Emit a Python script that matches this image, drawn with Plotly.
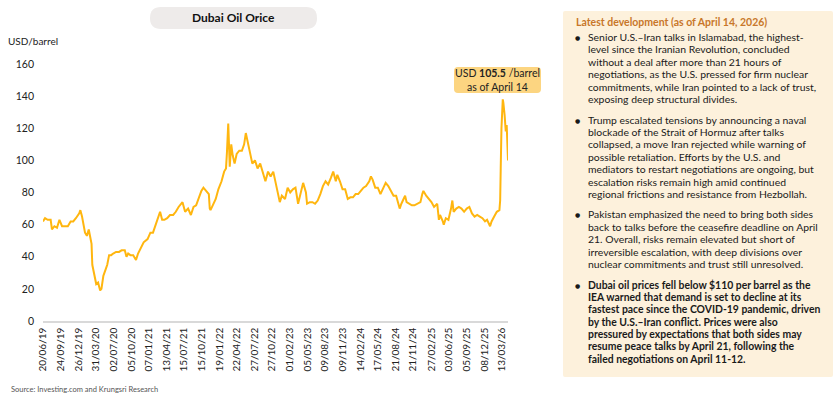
import plotly.graph_objects as go

# ---------------- DATA ----------------
dates = [
    "2019-06-20", "2019-07-01", "2019-07-15", "2019-07-31", "2019-08-07", "2019-08-20",
    "2019-09-03", "2019-09-16", "2019-09-30", "2019-10-15", "2019-10-31", "2019-11-15",
    "2019-11-29", "2019-12-13", "2019-12-31",
    "2020-01-06", "2020-01-15", "2020-01-31", "2020-02-10", "2020-02-20", "2020-02-28",
    "2020-03-06", "2020-03-10", "2020-03-20", "2020-03-31", "2020-04-10", "2020-04-21",
    "2020-04-28", "2020-05-08", "2020-05-20", "2020-05-29", "2020-06-08", "2020-06-19",
    "2020-06-30", "2020-07-15", "2020-07-31", "2020-08-14", "2020-08-31", "2020-09-09",
    "2020-09-18", "2020-09-30", "2020-10-15", "2020-10-30", "2020-11-10", "2020-11-25",
    "2020-12-10", "2020-12-31",
    "2021-01-15", "2021-01-29", "2021-02-12", "2021-02-26", "2021-03-08", "2021-03-19",
    "2021-03-31", "2021-04-15", "2021-04-30", "2021-05-17", "2021-05-31", "2021-06-15",
    "2021-06-30", "2021-07-06", "2021-07-20", "2021-08-05", "2021-08-20", "2021-09-03",
    "2021-09-17", "2021-09-30", "2021-10-15", "2021-10-26", "2021-11-10", "2021-11-24",
    "2021-11-29", "2021-12-03", "2021-12-15", "2021-12-31",
    "2022-01-14", "2022-01-31", "2022-02-14", "2022-02-24", "2022-03-01", "2022-03-08",
    "2022-03-16", "2022-03-24", "2022-04-01", "2022-04-11", "2022-04-22", "2022-05-06",
    "2022-05-20", "2022-06-01", "2022-06-10", "2022-06-24", "2022-07-08", "2022-07-15",
    "2022-07-29", "2022-08-12", "2022-08-26", "2022-09-09", "2022-09-23", "2022-10-07",
    "2022-10-21", "2022-11-04", "2022-11-18", "2022-12-01", "2022-12-09", "2022-12-20",
    "2023-01-06", "2023-01-20", "2023-02-03", "2023-02-17", "2023-03-03", "2023-03-17",
    "2023-03-31", "2023-04-13", "2023-04-28", "2023-05-04", "2023-05-19", "2023-06-02",
    "2023-06-16", "2023-06-30", "2023-07-14", "2023-07-28", "2023-08-11", "2023-08-25",
    "2023-09-08", "2023-09-21", "2023-10-05", "2023-10-13", "2023-10-27", "2023-11-10",
    "2023-11-24", "2023-12-08", "2023-12-22",
    "2024-01-05", "2024-01-19", "2024-02-02", "2024-02-16", "2024-03-01", "2024-03-15",
    "2024-04-01", "2024-04-10", "2024-04-19", "2024-05-03", "2024-05-17", "2024-05-31",
    "2024-06-14", "2024-06-28", "2024-07-12", "2024-07-26", "2024-08-09", "2024-08-23",
    "2024-09-06", "2024-09-11", "2024-09-20", "2024-10-04", "2024-10-10", "2024-10-18",
    "2024-11-01", "2024-11-15", "2024-11-29", "2024-12-13", "2024-12-31",
    "2025-01-10", "2025-01-16", "2025-01-31", "2025-02-14", "2025-02-28", "2025-03-14",
    "2025-03-31", "2025-04-09", "2025-04-15", "2025-04-30", "2025-05-05", "2025-05-16",
    "2025-05-30", "2025-06-13", "2025-06-20", "2025-06-27", "2025-07-11", "2025-07-25",
    "2025-08-08", "2025-08-22", "2025-09-05", "2025-09-19", "2025-10-03", "2025-10-17",
    "2025-10-31", "2025-11-14", "2025-11-28", "2025-12-12", "2025-12-23",
    "2026-01-08", "2026-01-16", "2026-01-30", "2026-02-13", "2026-02-27", "2026-03-03",
    "2026-03-06", "2026-03-10", "2026-03-17", "2026-03-20", "2026-03-27", "2026-04-02",
    "2026-04-07", "2026-04-10", "2026-04-14",
]
prices = [
    62, 64, 63, 63, 57, 59,
    58, 63, 59, 59, 59, 62,
    62, 64, 67,
    69, 65, 55, 53, 57, 51,
    48, 35, 28, 23, 24, 19,
    20, 28, 32, 35, 41, 41,
    42, 43, 43, 44, 44, 40,
    42, 41, 41, 38, 42, 46,
    49, 51,
    55, 55, 60, 64, 68, 63,
    63, 64, 66, 66, 68, 71,
    73, 74, 68, 70, 66, 71,
    72, 76, 81, 83, 81, 79,
    70, 69, 72, 76,
    82, 87, 93, 95, 105, 123,
    96, 110, 103, 98, 104, 106,
    106, 110, 117, 110, 101, 98,
    100, 95, 98, 92, 87, 93,
    90, 93, 86, 80, 74, 78,
    76, 83, 80, 82, 83, 73,
    79, 86, 80, 73, 74, 74,
    73, 75, 79, 84, 87, 85,
    89, 93, 87, 91, 87, 82,
    82, 76, 77,
    77, 79, 79, 81, 83, 84,
    87, 90, 88, 83, 83, 79,
    83, 86, 84, 81, 78, 78,
    73, 70, 73, 77, 78, 74,
    73, 72, 72, 73, 74,
    79, 81, 78, 76, 74, 71,
    73, 63, 66, 62, 60, 64,
    63, 70, 75, 68, 70, 71,
    70, 68, 70, 71, 67, 65,
    66, 65, 64, 62, 63,
    59, 62, 65, 68, 69, 75,
    95, 120, 138, 136, 128, 118,
    122, 115, 100,
]
tick_dates = [
    "2019-06-20", "2019-09-24", "2019-12-26", "2020-03-31", "2020-07-02", "2020-10-05",
    "2021-01-07", "2021-04-13", "2021-07-15", "2021-10-15", "2022-01-19", "2022-04-22",
    "2022-07-27", "2022-10-27", "2023-02-01", "2023-05-05", "2023-08-09", "2023-11-09",
    "2024-02-14", "2024-05-17", "2024-08-21", "2024-11-21", "2025-02-27", "2025-06-03",
    "2025-09-05", "2025-12-08", "2026-03-13",
]
tick_labels = [d[8:10] + "/" + d[5:7] + "/" + d[2:4] for d in tick_dates]
y_ticks = [0, 20, 40, 60, 80, 100, 120, 140, 160]

title_text = "Dubai Oil Orice"
unit_text = "USD/barrel"
source_text = "Source: Investing.com and Krungsri Research"
callout_lines = ["USD <b>105.5</b> /barrel", "as of April 14"]
panel_title = "Latest development (as of April 14, 2026)"
bullets = [
    ["Senior U.S.\u2013Iran talks in Islamabad, the highest-",
     "level since the Iranian Revolution, concluded",
     "without a deal after more than 21 hours of",
     "negotiations, as the U.S. pressed for firm nuclear",
     "commitments, while Iran pointed to a lack of trust,",
     "exposing deep structural divides."],
    ["Trump escalated tensions by announcing a naval",
     "blockade of the Strait of Hormuz after talks",
     "collapsed, a move Iran rejected while warning of",
     "possible retaliation. Efforts by the U.S. and",
     "mediators to restart negotiations are ongoing, but",
     "escalation risks remain high amid continued",
     "regional frictions and resistance from Hezbollah."],
    ["Pakistan emphasized the need to bring both sides",
     "back to talks before the ceasefire deadline on April",
     "21. Overall, risks remain elevated but short of",
     "irreversible escalation, with deep divisions over",
     "nuclear commitments and trust still unresolved."],
    ["Dubai oil prices fell below $110 per barrel as the",
     "IEA warned that demand is set to decline at its",
     "fastest pace since the COVID-19 pandemic, driven",
     "by the U.S.\u2013Iran conflict. Prices were also",
     "pressured by expectations that both sides may",
     "resume peace talks by April 21, following the",
     "failed negotiations on April 11-12."],
]
bullet_bold = [False, False, False, True]

# ---------------- LAYOUT HELPERS ----------------
W, H = 840, 399
L, R, T, B = 43, 508, 64, 321
FONT = "Lato, Carlito, 'Liberation Sans', sans-serif"


def px(X):
    return (X - L) / (R - L)


def py(Y):
    return (B - Y) / (B - T)


def rrect(x0, y0, x1, y1, r):
    def p(a, b):
        return f"{px(a):.5f},{py(b):.5f}"
    return (f"M {p(x0 + r, y0)} L {p(x1 - r, y0)} Q {p(x1, y0)} {p(x1, y0 + r)} "
            f"L {p(x1, y1 - r)} Q {p(x1, y1)} {p(x1 - r, y1)} "
            f"L {p(x0 + r, y1)} Q {p(x0, y1)} {p(x0, y1 - r)} "
            f"L {p(x0, y0 + r)} Q {p(x0, y0)} {p(x0 + r, y0)} Z")


fig = go.Figure()
fig.add_trace(go.Scatter(
    x=dates, y=prices, mode="lines",
    line=dict(color="#FFB60F", width=2),
    hoverinfo="skip", showlegend=False,
))

shapes = [
    dict(type="path", xref="paper", yref="paper", path=rrect(150, 7, 317, 29, 11),
         fillcolor="#EEEBEA", line=dict(width=0), layer="below"),
    dict(type="path", xref="paper", yref="paper", path=rrect(563, 11, 833, 377, 2),
         fillcolor="#FDF1DC", line=dict(width=0), layer="below"),
    dict(type="path", xref="paper", yref="paper", path=rrect(454, 67, 541, 93, 4),
         fillcolor="#FCD581", line=dict(width=0), layer="below"),
]

annotations = [
    dict(text=f"<b>{title_text}</b>", x=px(233.5), y=py(18), xref="paper", yref="paper",
         showarrow=False, xanchor="center", yanchor="middle",
         font=dict(family=FONT, size=12, color="#111111")),
    dict(text=unit_text, x=px(6), y=py(41), xref="paper", yref="paper",
         showarrow=False, xanchor="left", yanchor="middle",
         font=dict(family=FONT, size=10, color="#222222")),
    dict(text=source_text, x=px(9), y=py(389), xref="paper", yref="paper",
         showarrow=False, xanchor="left", yanchor="middle",
         font=dict(family=FONT, size=7.5, color="#555555")),
    dict(text="<br>".join(callout_lines), x=px(497.5), y=py(80), xref="paper", yref="paper",
         showarrow=False, xanchor="center", yanchor="middle", borderpad=0,
         font=dict(family=FONT, size=10.5, color="#222222")),
    dict(text=f"<b>{panel_title}</b>", x=px(574), y=py(22), xref="paper", yref="paper",
         showarrow=False, xanchor="left", yanchor="middle",
         font=dict(family=FONT, size=10.5, color="#C8772A")),
]

FS = 10.4
LINE = 12.4
GAP = 8.1
y_cur = 37.0
for lines, bold in zip(bullets, bullet_bold):
    annotations.append(dict(
        text="\u25CF", x=px(577), y=py(y_cur + 0.5), xref="paper", yref="paper",
        showarrow=False, xanchor="center", yanchor="middle", borderpad=0,
        font=dict(family="DejaVu Sans", size=6, color="#1a1a1a")))
    for s in lines:
        annotations.append(dict(
            text=f"<b>{s}</b>" if bold else s, x=px(587), y=py(y_cur),
            xref="paper", yref="paper", showarrow=False, xanchor="left",
            yanchor="middle", align="left", borderpad=0,
            font=dict(family=FONT, size=FS, color="#1a1a1a")))
        y_cur += LINE
    y_cur += GAP

fig.update_layout(
    width=W, height=H,
    margin=dict(l=L, r=W - R, t=T, b=H - B, pad=0),
    paper_bgcolor="white", plot_bgcolor="white",
    shapes=shapes, annotations=annotations,
    font=dict(family=FONT, color="#222222"),
    xaxis=dict(
        type="date", range=["2019-06-20", "2026-04-14"],
        tickmode="array", tickvals=tick_dates, ticktext=tick_labels,
        tickangle=-90, tickfont=dict(family=FONT, size=10, color="#222222"),
        showgrid=False, zeroline=False, showline=True, linecolor="#D9D9D9", linewidth=1.5,
        ticks="", ticklabelstandoff=1,
    ),
    yaxis=dict(
        range=[0, 160], tickmode="array", tickvals=y_ticks,
        tickfont=dict(family=FONT, size=10.5, color="#222222"),
        showgrid=False, zeroline=False, showline=False, ticks="",
        ticklabelstandoff=8,
    ),
)

fig.write_html("out.html", config={"displayModeBar": False},
               post_script="document.body.style.margin='0px';")
